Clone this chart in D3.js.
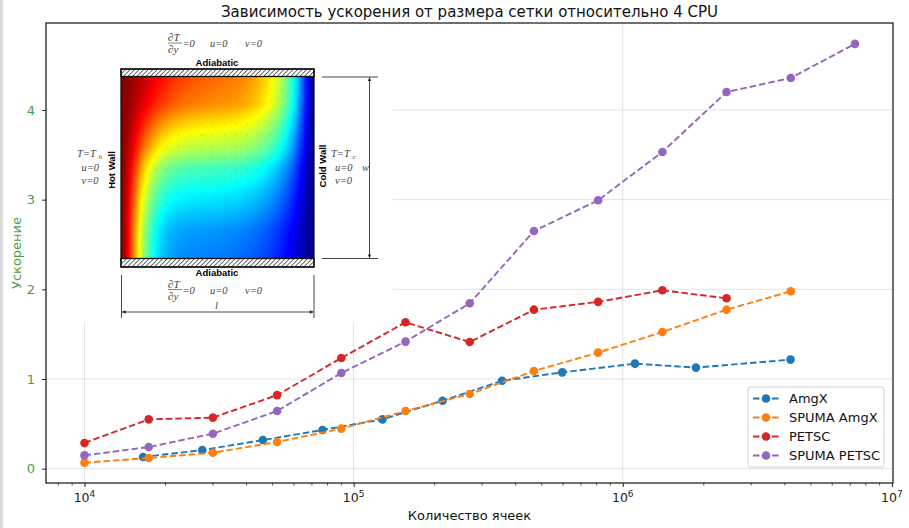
<!DOCTYPE html>
<html>
<head>
<meta charset="utf-8">
<script src="https://cdn.jsdelivr.net/npm/d3@7"></script>
<style>
  body { margin: 0; background: #fff; }
  text { font-family: "DejaVu Sans", sans-serif; }
</style>
</head>
<body>
<script>
// Chart data
var gridSizes = [10000, 17320, 30000, 51960, 90000, 155880, 270000, 467650, 810000, 1402960, 2430000, 4208870, 7290000];
var amgxSizes = [16500, 27400, 46000, 76600, 128000, 214000, 356000, 596000, 1110000, 1870000, 4200000];

var amgx = [0.13, 0.207, 0.319, 0.431, 0.55, 0.758, 0.98, 1.074, 1.171, 1.127, 1.216];
var spumaAmgx = [0.067, 0.118, 0.178, 0.297, 0.446, 0.643, 0.833, 1.089, 1.294, 1.524, 1.773, 1.978];
var petsc = [0.286, 0.55, 0.569, 0.82, 1.234, 1.632, 1.412, 1.773, 1.86, 1.989, 1.9];
var spumaPetsc = [0.148, 0.241, 0.39, 0.643, 1.067, 1.417, 1.844, 2.65, 2.993, 3.532, 4.2, 4.357, 4.737];

var seriesNames = ["AmgX", "SPUMA AmgX", "PETSC", "SPUMA PETSC"];
var seriesColors = ["#1f77b4", "#ff7f0e", "#d62728", "#9467bd"];

var xTicks = [1e4, 1e5, 1e6, 1e7];
var xTickExp = ["4", "5", "6", "7"];
var yTicks = [0, 1, 2, 3, 4];

var titleText = "Зависимость ускорения от размера сетки относительно 4 CPU";
var xLabel = "Количество ячеек";
var yLabel = "Ускорение";

// SVG area
var svgWidth = 909;
var svgHeight = 528;

var plot = { left: 46, right: 893, top: 23, bottom: 483 };

var svg = d3.select("body")
  .append("svg")
  .attr("width", svgWidth)
  .attr("height", svgHeight);

svg.append("rect").attr("x", 0).attr("y", 0).attr("width", 3).attr("height", svgHeight).attr("fill", "#dcdcdc");

// scales
var xScale = d3.scaleLog()
  .domain([Math.pow(10, 3.857), Math.pow(10, 7.004)])
  .range([plot.left, plot.right]);

var yScale = d3.scaleLinear()
  .domain([-0.16, 4.97])
  .range([plot.bottom, plot.top]);

// grid
var grid = svg.append("g");
grid.selectAll(".gx")
  .data(xTicks.slice(0, 3))
  .enter()
  .append("line")
  .attr("x1", d => xScale(d)).attr("x2", d => xScale(d))
  .attr("y1", plot.top).attr("y2", plot.bottom)
  .attr("stroke", "#e3e3e3").attr("stroke-width", 1);
grid.selectAll(".gy")
  .data(yTicks)
  .enter()
  .append("line")
  .attr("x1", plot.left).attr("x2", plot.right)
  .attr("y1", d => yScale(d)).attr("y2", d => yScale(d))
  .attr("stroke", "#e3e3e3").attr("stroke-width", 1);

// ---------- inset picture (cavity with hot/cold walls) ----------
var inset = svg.append("g");
inset.append("rect")
  .attr("x", plot.left + 1).attr("y", plot.top + 1)
  .attr("width", 392 - plot.left).attr("height", 322 - plot.top)
  .attr("fill", "#fff");

var box = { x: 121, y: 76.5, w: 193, h: 182 };

// temperature field, jet colormap
function jet(t) {
  var c = v => Math.max(0, Math.min(1, v));
  return [c(1.5 - Math.abs(4 * t - 3)), c(1.5 - Math.abs(4 * t - 2)), c(1.5 - Math.abs(4 * t - 1))];
}
// stratified core temperature vs height
var coreT = d3.scaleLinear()
  .domain([0, 0.15, 0.35, 0.5, 0.6, 0.7, 0.85, 1])
  .range([0.26, 0.28, 0.37, 0.45, 0.55, 0.62, 0.74, 0.77]);

var cw = box.w * 2, ch = box.h * 2;
var canvas = document.createElement("canvas");
canvas.width = cw;
canvas.height = ch;
var ctx = canvas.getContext("2d");
var img = ctx.createImageData(cw, ch);
for (var j = 0; j < ch; j++) {
  for (var i = 0; i < cw; i++) {
    var u = i / (cw - 1), v = 1 - j / (ch - 1);
    var core = coreT(v);
    var dh = 0.115 + 0.12 * v * v * v;
    var dc = 0.14 + 0.06 * (1 - v) * (1 - v);
    var t = core + (1 - core) * Math.exp(-Math.pow(u / dh, 1.5));
    t = t * (1 - Math.exp(-Math.pow((1 - u) / dc, 1.2)));
    var rgb = jet(t);
    var k = (j * cw + i) * 4;
    img.data[k] = rgb[0] * 255;
    img.data[k + 1] = rgb[1] * 255;
    img.data[k + 2] = rgb[2] * 255;
    img.data[k + 3] = 255;
  }
}
ctx.putImageData(img, 0, 0);
// velocity dots
ctx.fillStyle = "rgba(90,90,90,0.35)";
for (var dy = 24; dy < ch - 10; dy += 23) {
  for (var dx = 22; dx < cw - 10; dx += 23) {
    ctx.fillRect(dx, dy, 2, 2);
  }
}
inset.append("image")
  .attr("x", box.x).attr("y", box.y)
  .attr("width", box.w).attr("height", box.h)
  .attr("preserveAspectRatio", "none")
  .attr("href", canvas.toDataURL());

// hatched adiabatic walls
var defs = svg.append("defs");
var pat = defs.append("pattern")
  .attr("id", "hatch")
  .attr("patternUnits", "userSpaceOnUse")
  .attr("width", 3.2).attr("height", 3.2)
  .attr("patternTransform", "rotate(45)");
pat.append("rect").attr("width", 3.2).attr("height", 3.2).attr("fill", "#fff");
pat.append("line").attr("x1", 0).attr("y1", 0).attr("x2", 0).attr("y2", 3.2)
  .attr("stroke", "#333").attr("stroke-width", 1.4);

[[69, 7.5], [258.5, 8.5]].forEach(function(w) {
  inset.append("rect")
    .attr("x", box.x).attr("y", w[0])
    .attr("width", box.w).attr("height", w[1])
    .attr("fill", "url(#hatch)")
    .attr("stroke", "#111").attr("stroke-width", 1.3);
});
inset.append("rect")
  .attr("x", box.x).attr("y", 69)
  .attr("width", box.w).attr("height", 198)
  .attr("fill", "none").attr("stroke", "#111").attr("stroke-width", 1.3);

// inset labels
var sans = "'Liberation Sans', Arial, sans-serif";
function mathText(x, y, str, size) {
  inset.append("text")
    .attr("x", x).attr("y", y)
    .style("font-family", "'Liberation Serif', serif").style("font-style", "italic")
    .style("font-size", (size || 10.5) + "px").attr("fill", "#444")
    .text(str);
}
function dTdy(x, yBar) {
  mathText(x, yBar - 2, "\u2202T", 11);
  inset.append("line").attr("x1", x).attr("x2", x + 14).attr("y1", yBar).attr("y2", yBar)
    .attr("stroke", "#555").attr("stroke-width", 0.7);
  mathText(x, yBar + 10, "\u2202y", 11);
  mathText(x + 14.5, yBar + 4, "=0");
  mathText(x + 42, yBar + 4, "u=0");
  mathText(x + 77, yBar + 4, "v=0");
}
dTdy(168, 43);
dTdy(168, 289.5);

inset.append("text").attr("x", 217).attr("y", 66).attr("text-anchor", "middle")
  .style("font-family", sans).style("font-weight", "bold")
  .style("font-size", "9.5px").text("Adiabatic");
inset.append("text").attr("x", 217).attr("y", 276).attr("text-anchor", "middle")
  .style("font-family", sans).style("font-weight", "bold")
  .style("font-size", "9.5px").text("Adiabatic");

inset.append("text").attr("transform", "translate(115,170) rotate(-90)").attr("text-anchor", "middle")
  .style("font-family", sans).style("font-weight", "bold")
  .style("font-size", "9.5px").text("Hot Wall");
inset.append("text").attr("transform", "translate(326,166) rotate(-90)").attr("text-anchor", "middle")
  .style("font-family", sans).style("font-weight", "bold")
  .style("font-size", "9.5px").text("Cold Wall");

mathText(77, 157, "T=T");
mathText(98.5, 158.5, "h", 7);
mathText(81.5, 170.5, "u=0");
mathText(81.5, 183.5, "v=0");
mathText(331, 157, "T=T");
mathText(352.5, 158.5, "c", 7);
mathText(335, 170.5, "u=0");
mathText(335, 183.5, "v=0");
mathText(362, 171, "w");
mathText(215, 308.5, "l");

// dimension lines with arrows
defs.append("marker")
  .attr("id", "arr").attr("viewBox", "0 0 10 10")
  .attr("refX", 10).attr("refY", 5)
  .attr("markerWidth", 7).attr("markerHeight", 4)
  .attr("orient", "auto-start-reverse")
  .append("path").attr("d", "M0,0 L10,5 L0,10 Z").attr("fill", "#222");

var dim = inset.append("g").attr("stroke", "#333").attr("stroke-width", 0.9);
dim.append("line").attr("x1", 322).attr("x2", 378).attr("y1", 77).attr("y2", 77);
dim.append("line").attr("x1", 322).attr("x2", 378).attr("y1", 258.5).attr("y2", 258.5);
dim.append("line").attr("x1", 369.5).attr("x2", 369.5).attr("y1", 77.5).attr("y2", 258)
  .attr("marker-start", "url(#arr)").attr("marker-end", "url(#arr)");
dim.append("line").attr("x1", 121.5).attr("x2", 121.5).attr("y1", 275).attr("y2", 318);
dim.append("line").attr("x1", 314).attr("x2", 314).attr("y1", 275).attr("y2", 318);
dim.append("line").attr("x1", 122).attr("x2", 313.5).attr("y1", 312).attr("y2", 312)
  .attr("marker-start", "url(#arr)").attr("marker-end", "url(#arr)");

// ---------- data series ----------
var series = [
  { name: seriesNames[0], color: seriesColors[0], xs: amgxSizes, ys: amgx },
  { name: seriesNames[1], color: seriesColors[1], xs: gridSizes, ys: spumaAmgx },
  { name: seriesNames[2], color: seriesColors[2], xs: gridSizes, ys: petsc },
  { name: seriesNames[3], color: seriesColors[3], xs: gridSizes, ys: spumaPetsc }
];

var line = d3.line()
  .x(d => xScale(d[0]))
  .y(d => yScale(d[1]));

series.forEach(function(s) {
  var pts = s.ys.map((y, i) => [s.xs[i], y]);
  var g = svg.append("g");
  g.append("path")
    .attr("d", line(pts))
    .attr("fill", "none")
    .attr("stroke", s.color)
    .attr("stroke-width", 1.9)
    .attr("stroke-dasharray", "6.5,3");
  g.selectAll("circle")
    .data(pts)
    .enter()
    .append("circle")
    .attr("cx", d => xScale(d[0]))
    .attr("cy", d => yScale(d[1]))
    .attr("r", 4.3)
    .attr("fill", s.color);
});

// ---------- axes ----------
var bottomAxis = d3.axisBottom(xScale)
  .tickValues(xTicks)
  .tickSize(4)
  .tickFormat("");
var xAxisG = svg.append("g")
  .attr("transform", `translate(0, ${plot.bottom})`)
  .call(bottomAxis);
xAxisG.select(".domain").remove();
xAxisG.selectAll("line").attr("stroke", "#222").attr("stroke-width", 1);

// minor ticks
var minorTicks = xScale.ticks().filter(d => xTicks.indexOf(d) < 0);
svg.append("g").selectAll("line")
  .data(minorTicks)
  .enter()
  .append("line")
  .attr("x1", d => xScale(d)).attr("x2", d => xScale(d))
  .attr("y1", plot.bottom).attr("y2", plot.bottom + 2.5)
  .attr("stroke", "#222").attr("stroke-width", 0.8);

// x tick labels 10^n
var xLab = svg.append("g").selectAll("text")
  .data(xTicks)
  .enter()
  .append("text")
  .attr("x", d => xScale(d))
  .attr("y", 502)
  .attr("text-anchor", "middle")
  .style("font-size", "12.5px")
  .attr("fill", "#222");
xLab.append("tspan").text("10");
xLab.append("tspan").attr("dy", -5).style("font-size", "9px").text((d, i) => xTickExp[i]);

var leftAxis = d3.axisLeft(yScale)
  .tickValues(yTicks)
  .tickSize(4)
  .tickPadding(7)
  .tickFormat(d3.format("d"));
var yAxisG = svg.append("g")
  .attr("transform", `translate(${plot.left}, 0)`)
  .call(leftAxis);
yAxisG.select(".domain").remove();
yAxisG.selectAll("line").attr("stroke", "#222");
yAxisG.selectAll("text")
  .style("font-family", "'DejaVu Sans', sans-serif")
  .style("font-size", "13px")
  .attr("fill", "#4c9e4c");

// frame
svg.append("rect")
  .attr("x", plot.left).attr("y", plot.top)
  .attr("width", plot.right - plot.left).attr("height", plot.bottom - plot.top)
  .attr("fill", "none").attr("stroke", "#222").attr("stroke-width", 1.3);

// titles
svg.append("text")
  .attr("x", (plot.left + plot.right) / 2).attr("y", 17)
  .attr("text-anchor", "middle")
  .style("font-size", "15px").attr("fill", "#111")
  .text(titleText);

svg.append("text")
  .attr("x", (plot.left + plot.right) / 2).attr("y", 520)
  .attr("text-anchor", "middle")
  .style("font-size", "13px").attr("fill", "#111")
  .text(xLabel);

svg.append("text")
  .attr("transform", `translate(21, ${(plot.top + plot.bottom) / 2}) rotate(-90)`)
  .attr("text-anchor", "middle")
  .style("font-size", "13px").attr("fill", "#4c9e4c")
  .text(yLabel);

// legend
var legend = svg.append("g").attr("transform", "translate(748, 387)");
legend.append("rect")
  .attr("width", 136).attr("height", 80)
  .attr("rx", 2.5)
  .attr("fill", "#fff").attr("fill-opacity", 0.85)
  .attr("stroke", "#d0d0d0");
series.forEach(function(s, i) {
  var row = legend.append("g").attr("transform", `translate(0, ${11.5 + i * 19})`);
  row.append("line")
    .attr("x1", 5).attr("x2", 31)
    .attr("stroke", s.color).attr("stroke-width", 1.9)
    .attr("stroke-dasharray", "6.5,3");
  row.append("circle").attr("cx", 18).attr("cy", 0).attr("r", 4.3).attr("fill", s.color);
  row.append("text")
    .attr("x", 41).attr("y", 4.5)
    .style("font-size", "13px").attr("fill", "#111")
    .text(s.name);
});
</script>
</body>
</html>
